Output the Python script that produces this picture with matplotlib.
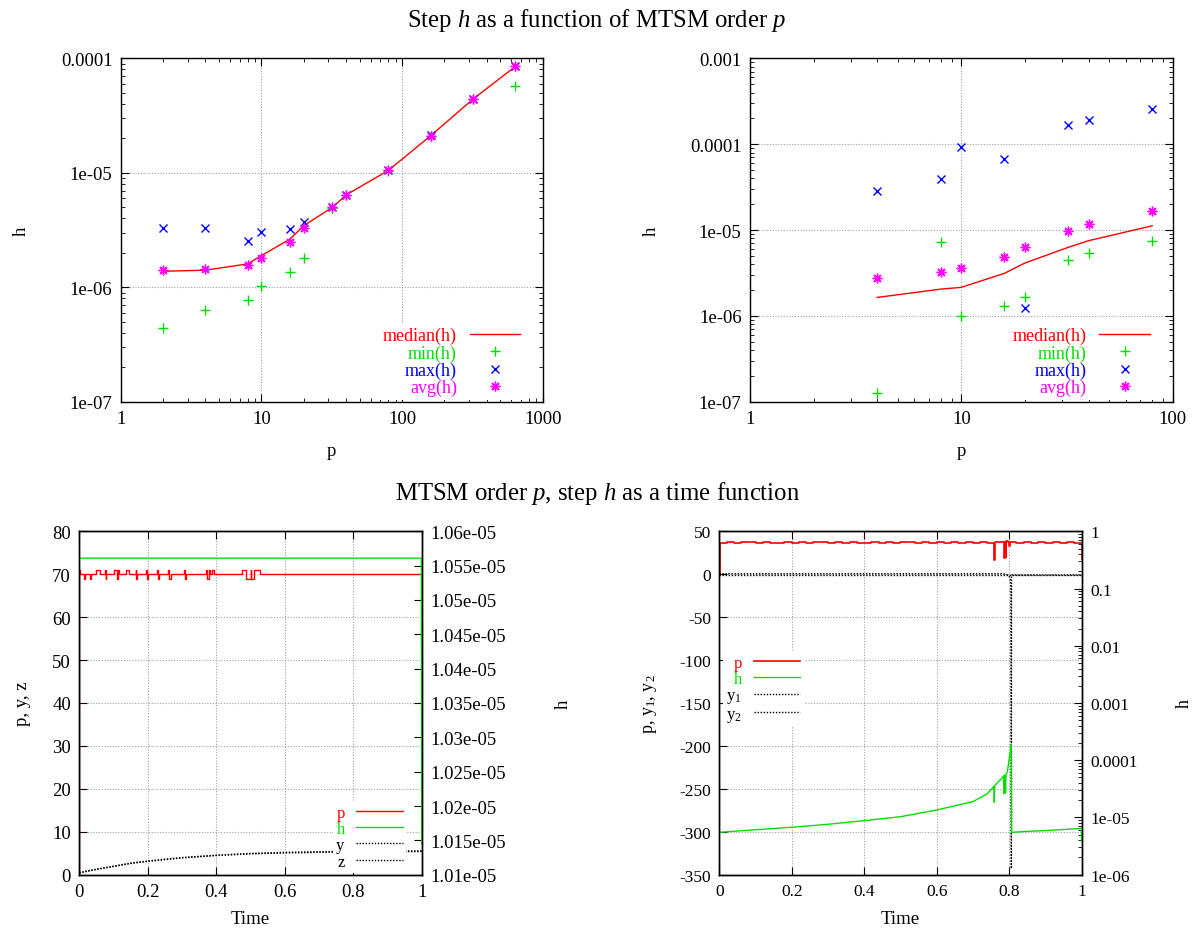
import numpy as np
import matplotlib
matplotlib.use('Agg')
import matplotlib.pyplot as plt
from matplotlib.ticker import FixedLocator, FuncFormatter, NullFormatter, LogLocator

# step statistics for each MTSM order p, first problem
left_p = [2, 4, 8, 10, 16, 20, 32, 40, 80, 160, 320, 640]
left_median = [1.38e-6, 1.41e-6, 1.60e-6, 1.89e-6, 2.64e-6, 3.45e-6, 4.99e-6, 6.40e-6, 1.05e-5, 2.11e-5, 4.41e-5, 8.51e-5]
left_min = [4.37e-7, 6.29e-7, 7.73e-7, 1.02e-6, 1.35e-6, 1.82e-6, 4.95e-6, 6.35e-6, 1.04e-5, 2.10e-5, 4.40e-5, 5.77e-5]
left_max = [3.29e-6, 3.29e-6, 2.54e-6, 3.02e-6, 3.21e-6, 3.74e-6, 5.03e-6, 6.45e-6, 1.06e-5, 2.12e-5, 4.42e-5, 8.55e-5]
left_avg = [1.41e-6, 1.45e-6, 1.57e-6, 1.79e-6, 2.47e-6, 3.27e-6, 4.99e-6, 6.40e-6, 1.05e-5, 2.11e-5, 4.41e-5, 8.51e-5]

# step statistics for each MTSM order p, second problem
right_p = [4, 8, 10, 16, 20, 32, 40, 80]
right_median = [1.64e-6, 2.05e-6, 2.15e-6, 3.13e-6, 4.13e-6, 6.28e-6, 7.51e-6, 1.12e-5]
right_min = [1.28e-7, 7.18e-6, 9.86e-7, 1.29e-6, 1.67e-6, 4.47e-6, 5.39e-6, 7.38e-6]
right_max = [2.82e-5, 3.93e-5, 9.18e-5, 6.65e-5, 1.23e-6, 1.66e-4, 1.93e-4, 2.55e-4]
right_avg = [2.73e-6, 3.21e-6, 3.57e-6, 4.81e-6, 6.40e-6, 9.82e-6, 1.17e-5, 1.66e-5]

# run 1: order p (steps), step h, solution y, z
run1_p_time = [0.0, 0.0004, 0.003, 0.014, 0.017, 0.030, 0.033, 0.049, 0.061, 0.075, 0.077, 0.079,
               0.102, 0.111, 0.114, 0.117, 0.136, 0.146, 0.165, 0.167, 0.170, 0.196, 0.199, 0.202,
               0.226, 0.229, 0.232, 0.258, 0.261, 0.267, 0.306, 0.309, 0.313, 0.371, 0.374, 0.378,
               0.382, 0.388, 0.393, 0.476, 0.486, 0.500, 0.502, 0.510, 0.528, 0.998, 1.0]
run1_p_order = [0, 71, 70, 69, 70, 69, 70, 71, 70, 71, 69, 70,
                71, 69, 71, 70, 71, 70, 71, 69, 70, 71, 69, 70,
                71, 69, 70, 71, 69, 70, 71, 69, 70, 71, 69, 71,
                70, 71, 70, 71, 69, 71, 69, 71, 70, 70, 67]
run1_h_time = [0.0, 0.999, 1.0]
run1_h = [1.0561e-5, 1.0561e-5, 1.0145e-5]
run1_yz_time = [0.0, 0.05, 0.1, 0.15, 0.2, 0.3, 0.4, 0.5, 0.6, 0.7, 0.8, 0.9, 1.0]
run1_y = [0.5, 1.3, 2.0, 2.7, 3.2, 4.0, 4.55, 4.95, 5.2, 5.35, 5.45, 5.5, 5.55]
run1_z = [0.4, 1.2, 1.9, 2.6, 3.1, 3.9, 4.45, 4.85, 5.05, 5.2, 5.3, 5.35, 5.4]
run1_h_ticks = [1.01e-05, 1.015e-05, 1.02e-05, 1.025e-05, 1.03e-05, 1.035e-05,
                1.04e-05, 1.045e-05, 1.05e-05, 1.055e-05, 1.06e-05]

# run 2: order p (steps), step h, solution y1, y2
run2_p_time = [0.0, 0.001,
               0.02, 0.04, 0.06, 0.08, 0.10, 0.12, 0.14, 0.16, 0.18, 0.20,
               0.22, 0.24, 0.26, 0.28, 0.30, 0.32, 0.34, 0.36, 0.38, 0.40,
               0.42, 0.44, 0.46, 0.48, 0.50, 0.52, 0.54, 0.56, 0.58, 0.60,
               0.62, 0.64, 0.66, 0.68, 0.70, 0.72, 0.74,
               0.758, 0.759, 0.761, 0.775, 0.786, 0.787, 0.789, 0.790, 0.792, 0.797, 0.800, 0.802,
               0.82, 0.84, 0.86, 0.88, 0.90, 0.92, 0.94, 0.96, 0.98,
               0.999, 1.0]
run2_p_order = [0, 36,
                37, 36, 37, 37, 36, 37, 36, 36, 37, 36,
                37, 36, 37, 37, 36, 37, 36, 37, 36, 36,
                37, 36, 37, 36, 37, 37, 36, 37, 36, 37,
                36, 37, 36, 37, 36, 37, 36,
                36, 17, 37, 37, 38, 19, 38, 20, 39, 38, 33, 37,
                36, 37, 36, 37, 36, 37, 36, 37, 36,
                36, 18]
run2_h_time = [0.0, 0.0005, 0.1, 0.2, 0.3, 0.4, 0.5, 0.6, 0.7, 0.74,
               0.758, 0.759, 0.760, 0.775, 0.785, 0.786, 0.787, 0.789, 0.790, 0.791,
               0.795, 0.800, 0.804, 0.806, 0.807, 0.85, 0.9, 0.95, 0.999, 1.0]
run2_h = [0.098, 5.5e-6, 6.1e-6, 6.73e-6, 7.6e-6, 8.8e-6, 1.03e-5, 1.35e-5, 1.89e-5, 2.6e-5,
          3.5e-5, 1.84e-5, 3.6e-5, 4.5e-5, 5.3e-5, 2.6e-5, 5.5e-5, 5.2e-5, 2.7e-5, 5.6e-5,
          6.3e-5, 1.05e-4, 1.6e-4, 1.9e-4, 5.5e-6, 5.7e-6, 5.9e-6, 6.15e-6, 6.46e-6, 3.8e-6]
run2_y1_time = [0.0, 0.78, 0.79, 0.795, 0.80, 0.803, 0.805, 0.806, 0.8065, 1.0]
run2_y1 = [0.6, 0.6, 0.2, -0.8, -2.5, -5.5, -15, -343, -0.9, -0.9]
run2_y2_time = [0.0, 1.0]
run2_y2 = [-0.9, -0.9]

RED = '#ff0000'
GREEN = '#00e000'
BLUE = '#0000ff'
MAGENTA = '#ff00ff'
GRID = dict(color='#a0a0a0', linestyle=(0, (1, 1.5)), linewidth=0.8)
DOTTED = (0, (1, 1.2))
FS_TOP = 13.5
FS_BL = 13.5
FS_BR = 12.5


def g_fmt(v, _pos):
    return '%g' % v


def style(ax, fs, top=True, right=True):
    ax.tick_params(which='both', direction='in', top=top, right=right, labelsize=fs, pad=6)
    ax.tick_params(which='major', length=6)
    ax.tick_params(which='minor', length=3)
    for s in ax.spines.values():
        s.set_linewidth(1.0)


def legend(ax, handles, loc, anchor, fs, spacing):
    leg = ax.legend(handles, [h.get_label() for h in handles], loc=loc, bbox_to_anchor=anchor,
                    markerfirst=False, frameon=True, fancybox=False, framealpha=1,
                    facecolor='white', edgecolor='none', handlelength=2.8, handletextpad=0.7,
                    labelspacing=spacing, borderpad=0.2, borderaxespad=0, fontsize=fs)
    for text, h in zip(leg.get_texts(), handles):
        text.set_color(h.get_color())
    return leg


def stats_panel(ax, p, median, hmin, hmax, avg, xlim, ylim):
    ax.set_xscale('log')
    ax.set_yscale('log')
    handles = [
        ax.plot(p, median, color=RED, lw=1, label='median(h)')[0],
        ax.plot(p, hmin, ls='none', marker='+', ms=7, mew=1, color=GREEN, label='min(h)')[0],
        ax.plot(p, hmax, ls='none', marker='x', ms=6, mew=1, color=BLUE, label='max(h)')[0],
        ax.plot(p, avg, ls='none', marker=(8, 2, 0), ms=7, mew=1, color=MAGENTA, label='avg(h)')[0],
    ]
    ax.set_xlim(*xlim)
    ax.set_ylim(*ylim)
    for axis in (ax.xaxis, ax.yaxis):
        axis.set_major_locator(LogLocator(base=10))
        axis.set_minor_locator(LogLocator(base=10, subs=np.arange(2, 10)))
        axis.set_major_formatter(FuncFormatter(g_fmt))
        axis.set_minor_formatter(NullFormatter())
    ax.grid(True, which='major', **GRID)
    style(ax, FS_TOP)
    ax.set_xlabel('p', fontsize=FS_TOP)
    ax.set_ylabel('h', fontsize=FS_TOP)
    ax.xaxis.set_label_coords(0.5, -0.117)
    legend(ax, handles, 'lower right', (0.955, 0.005), 13, 0.0)


def main():
    plt.rcParams['font.family'] = ['Liberation Serif', 'DejaVu Serif']
    plt.rcParams['mathtext.fontset'] = 'custom'
    plt.rcParams['mathtext.rm'] = 'Liberation Serif'
    plt.rcParams['mathtext.it'] = 'Liberation Serif:italic'
    plt.rcParams['axes.unicode_minus'] = False

    fig = plt.figure(figsize=(11.94, 9.29), dpi=100)
    fig.text(0.5, 0.978, 'Step $h$ as a function of MTSM order $p$', ha='center', va='center', fontsize=17.8)
    fig.text(0.5, 0.469, 'MTSM order $p$, step $h$ as a time function', ha='center', va='center', fontsize=17.8)

    # top row: h statistics against the order
    ax1 = fig.add_axes([0.1011, 0.5665, 0.3534, 0.3696])
    stats_panel(ax1, left_p, left_median, left_min, left_max, left_avg, (1, 1000), (1e-7, 1e-4))
    ax1.yaxis.set_label_coords(-0.215, 0.5)

    ax2 = fig.add_axes([0.6281, 0.5665, 0.3540, 0.3696])
    stats_panel(ax2, right_p, right_median, right_min, right_max, right_avg, (1, 100), (1e-7, 1e-3))
    ax2.yaxis.set_label_coords(-0.213, 0.5)

    # bottom left: run 1 in time
    ax3 = fig.add_axes([0.0664, 0.0574, 0.2868, 0.3696])
    tw3 = ax3.twinx()
    lp = ax3.plot(run1_p_time, run1_p_order, color=RED, lw=1, drawstyle='steps-post', label='p')[0]
    ly = ax3.plot(run1_yz_time, run1_y, color='black', lw=1, ls=DOTTED, label='y')[0]
    lz = ax3.plot(run1_yz_time, run1_z, color='black', lw=1, ls=DOTTED, label='z')[0]
    lh = tw3.plot(run1_h_time, run1_h, color=GREEN, lw=1, label='h')[0]
    ax3.set_xlim(0, 1)
    ax3.set_ylim(0, 80)
    ax3.set_xticks([0, 0.2, 0.4, 0.6, 0.8, 1.0])
    ax3.set_yticks(range(0, 81, 10))
    ax3.xaxis.set_major_formatter(FuncFormatter(g_fmt))
    ax3.yaxis.set_major_formatter(FuncFormatter(g_fmt))
    ax3.grid(True, **GRID)
    style(ax3, FS_BL, top=True, right=False)
    tw3.set_ylim(1.01e-05, 1.06e-05)
    tw3.yaxis.set_major_locator(FixedLocator(run1_h_ticks))
    tw3.yaxis.set_major_formatter(FuncFormatter(lambda v, _p: '%g' % float('%.4g' % v)))
    style(tw3, FS_BL, top=False, right=True)
    tw3.tick_params(left=False)
    ax3.set_xlabel('Time', fontsize=FS_BL)
    ax3.set_ylabel('p, y, z', fontsize=FS_BL)
    tw3.set_ylabel('h', fontsize=FS_BL)
    ax3.xaxis.set_label_coords(0.5, -0.103)
    ax3.yaxis.set_label_coords(-0.14, 0.5)
    tw3.yaxis.set_label_coords(1.39, 0.5)
    legend(tw3, [lp, lh, ly, lz], 'lower right', (0.955, 0.005), 12, 0.02)

    # bottom right: run 2 in time
    ax4 = fig.add_axes([0.6024, 0.0574, 0.3035, 0.3696])
    tw4 = ax4.twinx()
    lp = ax4.plot(run2_p_time, run2_p_order, color=RED, lw=1.2, drawstyle='steps-post', label='p')[0]
    ly1 = ax4.plot(run2_y1_time, run2_y1, color='black', lw=1, ls=DOTTED, label='y$_1$')[0]
    ly2 = ax4.plot(run2_y2_time, run2_y2, color='black', lw=1, ls=DOTTED, label='y$_2$')[0]
    lh = tw4.plot(run2_h_time, run2_h, color=GREEN, lw=1, label='h')[0]
    ax4.set_xlim(0, 1)
    ax4.set_ylim(-350, 50)
    ax4.set_xticks([0, 0.2, 0.4, 0.6, 0.8, 1.0])
    ax4.set_yticks(range(-350, 51, 50))
    ax4.xaxis.set_major_formatter(FuncFormatter(g_fmt))
    ax4.yaxis.set_major_formatter(FuncFormatter(g_fmt))
    ax4.grid(True, **GRID)
    style(ax4, FS_BR, top=True, right=False)
    tw4.set_yscale('log')
    tw4.set_ylim(1e-6, 1)
    tw4.yaxis.set_major_locator(LogLocator(base=10))
    tw4.yaxis.set_minor_locator(LogLocator(base=10, subs=np.arange(2, 10)))
    tw4.yaxis.set_major_formatter(FuncFormatter(g_fmt))
    tw4.yaxis.set_minor_formatter(NullFormatter())
    style(tw4, FS_BR, top=False, right=True)
    tw4.tick_params(left=False)
    ax4.set_xlabel('Time', fontsize=13.5)
    ax4.set_ylabel('p, y$_1$, y$_2$', fontsize=13)
    tw4.set_ylabel('h', fontsize=13)
    ax4.xaxis.set_label_coords(0.5, -0.103)
    ax4.yaxis.set_label_coords(-0.166, 0.5)
    tw4.yaxis.set_label_coords(1.26, 0.5)
    legend(tw4, [lp, lh, ly1, ly2], 'upper left', (0.01, 0.65), 12, 0.02)

    fig.savefig('out.png', dpi=100)


if __name__ == '__main__':
    main()
